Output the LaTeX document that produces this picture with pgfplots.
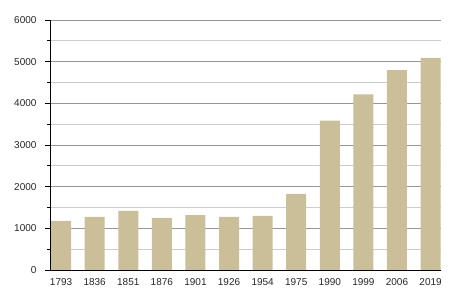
\documentclass[border=0pt]{standalone}
\usepackage{pgfplots}
\pgfplotsset{compat=1.18}
\usepackage{fontspec}
\setmainfont{Liberation Sans}
\definecolor{barcol}{RGB}{202,191,153}
\definecolor{majgrid}{RGB}{150,150,150}
\definecolor{mingrid}{RGB}{205,205,205}
\begin{document}
\begin{tikzpicture}
\path[use as bounding box] (0,0) rectangle (450pt,300pt);
\begin{axis}[
  at={(50pt,30pt)}, anchor=south west,
  scale only axis, width=391pt, height=250pt,
  ymin=0, ymax=6000, xmin=-0.33, xmax=11.31,
  axis x line*=bottom, axis y line*=left,
  axis line style={-, black, line width=0.9pt},
  ytick={0,1000,...,6000},
  minor ytick={500,1500,...,5500},
  ymajorgrids, yminorgrids,
  major grid style={majgrid, line width=0.8pt},
  minor grid style={mingrid, line width=0.8pt},
  xtick={0,...,11},
  xticklabels={1793,1836,1851,1876,1901,1926,1954,1975,1990,1999,2006,2019},
  x tick style={draw=none},
  y tick style={black, line width=0.8pt},
  tick align=outside,
  major tick length=5pt, minor tick length=2.5pt,
  /pgf/number format/1000 sep={},
  /pgf/number format/assume math mode=true,
  tick label style={font=\fontsize{10}{12}\selectfont, text=black!85},
  yticklabel style={xshift=-5pt},
  ybar, bar width=20pt,
]
\addplot[fill=barcol, draw=none] coordinates {
(0,1180) (1,1275) (2,1420) (3,1250) (4,1320) (5,1275) (6,1300) (7,1825) (8,3585) (9,4215) (10,4800) (11,5090)};
\end{axis}
\end{tikzpicture}
\end{document}
